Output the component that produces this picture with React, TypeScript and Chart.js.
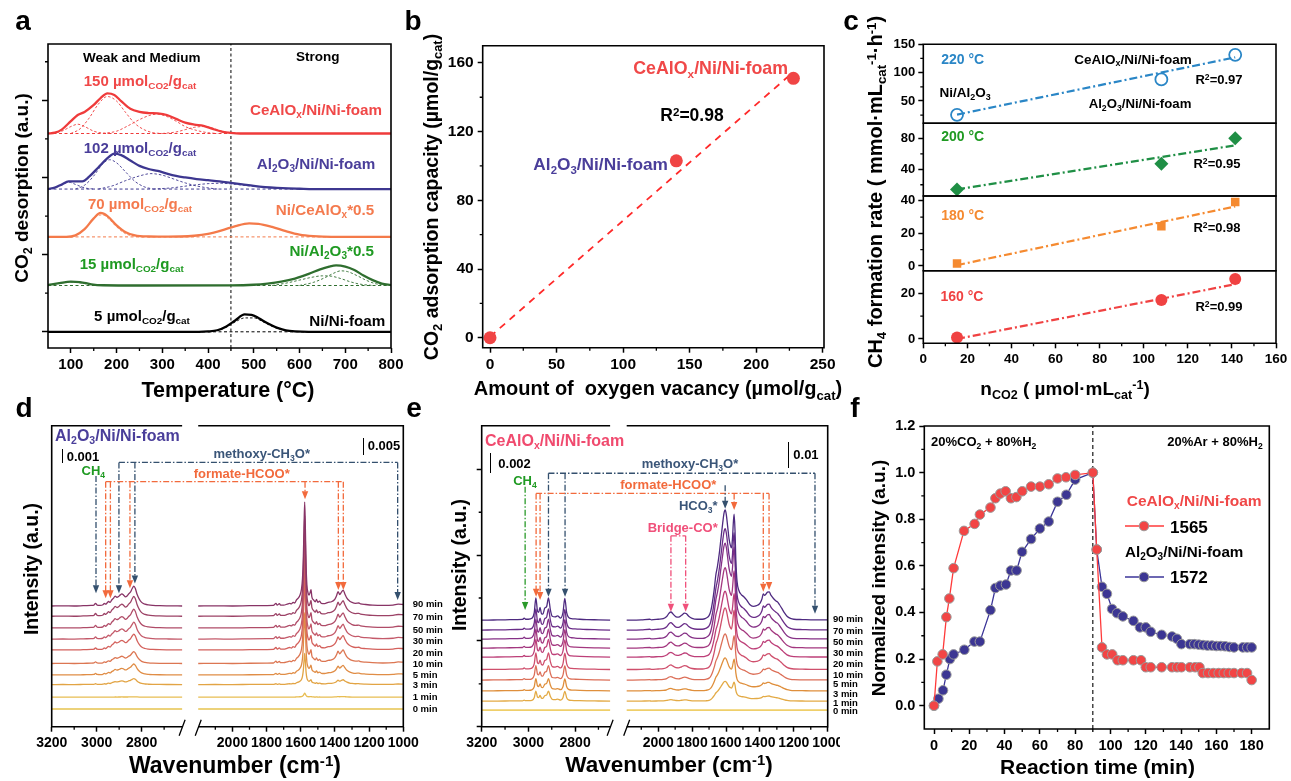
import React, { useEffect, useRef } from 'react';
import { Chart, registerables } from 'chart.js';
Chart.register(...registerables);

const FF = "'Liberation Sans', Arial, Helvetica, sans-serif";
type Pair = [number, number];

/* ================= Panel a : CO2-TPD ================= */
const aXRange = [50, 800];
const aYRange = [-0.21, 3.73];
const aXTicks = [100, 200, 300, 400, 500, 600, 700, 800];
const aXMinor = [150, 250, 350, 450, 550, 650, 750];
const aYTicks = [0, 1, 2, 3];
const aYMinor = [0.5, 1.5, 2.5, 3.5];
const aDivider = 450;
// vertical offsets of the stacked curves (CeAlOx, Al2O3, Ni/CeAlOx, Ni/Al2O3, Ni/Ni-foam)
const aOffsets = [2.57, 1.85, 1.23, 0.6, 0];

const aCeAlOx: Pair[] = [[50,0],[65,0.01],[80,0.05],[100,0.16],[115,0.24],[130,0.28],[150,0.37],[165,0.46],[180,0.52],[195,0.5],[210,0.42],[230,0.32],[250,0.28],[270,0.265],[290,0.26],[310,0.24],[330,0.19],[350,0.14],[370,0.115],[390,0.1],[410,0.06],[430,0.025],[450,0.008],[470,0],[800,0]];
const aCeAlOxFit1: Pair[] = [[60,0],[80,0.03],[100,0.09],[115,0.12],[130,0.09],[150,0.03],[170,0.005],[190,0]];
const aCeAlOxFit2: Pair[] = [[100,0],[120,0.06],[140,0.2],[160,0.38],[180,0.48],[200,0.42],[220,0.27],[240,0.13],[260,0.05],[280,0.01],[300,0]];
const aCeAlOxFit3: Pair[] = [[170,0],[200,0.03],[225,0.1],[250,0.18],[275,0.24],[290,0.25],[310,0.22],[330,0.16],[350,0.09],[375,0.04],[400,0.01],[420,0]];
const aCeAlOxFit4: Pair[] = [[300,0],[330,0.02],[350,0.05],[370,0.08],[390,0.09],[410,0.07],[430,0.03],[450,0.01],[470,0]];

const aAl2O3: Pair[] = [[50,0],[65,0.02],[80,0.06],[95,0.1],[110,0.1],[125,0.1],[140,0.16],[160,0.28],[180,0.4],[195,0.46],[210,0.44],[230,0.37],[250,0.3],[270,0.26],[290,0.235],[310,0.2],[330,0.17],[350,0.15],[375,0.13],[400,0.115],[425,0.1],[450,0.08],[475,0.06],[500,0.04],[525,0.025],[550,0.015],[575,0.008],[600,0.004],[630,0],[800,0]];
const aAl2O3Fit1: Pair[] = [[60,0],[80,0.05],[95,0.09],[110,0.06],[130,0.015],[150,0]];
const aAl2O3Fit2: Pair[] = [[110,0],[130,0.05],[150,0.17],[170,0.33],[185,0.38],[200,0.34],[220,0.22],[240,0.1],[260,0.03],[280,0]];
const aAl2O3Fit3: Pair[] = [[160,0],[190,0.04],[220,0.11],[250,0.17],[275,0.2],[300,0.18],[325,0.13],[350,0.08],[375,0.04],[400,0.015],[420,0]];
const aAl2O3Fit4: Pair[] = [[280,0],[320,0.015],[360,0.045],[400,0.07],[430,0.075],[460,0.06],[500,0.035],[550,0.012],[600,0]];

const aNiCeAlOx: Pair[] = [[50,0],[90,0],[110,0.02],[130,0.1],[150,0.24],[165,0.31],[180,0.27],[200,0.15],[220,0.06],[240,0.02],[270,0.005],[300,0.003],[340,0.005],[370,0.015],[400,0.04],[430,0.085],[460,0.14],[490,0.175],[510,0.17],[540,0.13],[570,0.075],[600,0.03],[630,0.01],[670,0],[800,0]];
const aNiCeAlOxFit1: Pair[] = [[100,0],[120,0.05],[140,0.17],[160,0.28],[170,0.285],[185,0.22],[200,0.13],[220,0.04],[240,0.01],[260,0]];

const aNiAl2O3: Pair[] = [[50,0.005],[75,0.03],[100,0.05],[120,0.045],[145,0.015],[170,0.003],[250,0],[450,0.002],[500,0.01],[530,0.025],[560,0.05],[590,0.09],[620,0.15],[645,0.21],[665,0.245],[680,0.26],[700,0.245],[720,0.2],[740,0.13],[760,0.07],[780,0.025],[800,0.005]];
const aNiAl2O3Fit1: Pair[] = [[50,0],[75,0.03],[100,0.045],[125,0.03],[150,0.005],[170,0]];
const aNiAl2O3Fit2: Pair[] = [[540,0],[570,0.03],[600,0.07],[630,0.11],[650,0.125],[670,0.12],[690,0.09],[710,0.05],[730,0.02],[760,0]];
const aNiAl2O3Fit3: Pair[] = [[600,0],[630,0.04],[655,0.1],[675,0.16],[690,0.19],[705,0.18],[725,0.13],[745,0.07],[765,0.025],[790,0]];

const aNiFoam: Pair[] = [[50,0],[380,0],[400,0.005],[420,0.02],[440,0.07],[460,0.15],[480,0.225],[495,0.22],[510,0.18],[530,0.11],[550,0.055],[570,0.02],[590,0.006],[620,0],[800,0]];
const aNiFoamFit1: Pair[] = [[400,0],[420,0.015],[440,0.06],[460,0.13],[480,0.18],[500,0.18],[520,0.13],[540,0.07],[560,0.03],[590,0.005],[620,0]];

/* ================= Panel b ================= */
const bVacancy = [0, 140, 228];
const bCapacity = [0, 103, 151];
const bFitX = [0, 225];
const bFitY = [0.6, 152.7];
const bXTicks = [0, 50, 100, 150, 200, 250];
const bXMinor = [25, 75, 125, 175, 225];
const bYTicks = [0, 40, 80, 120, 160];
const bYMinor = [20, 60, 100, 140];

/* ================= Panel c ================= */
const cNCO2 = [15.3, 108, 141.5];
const cFitX = [15.3, 141.5];
const c220 = [25.5, 88, 131.5];
const c220Fit = [26, 127];
const c200 = [14, 47, 80];
const c200Fit = [14, 71];
const c180 = [1.5, 24.3, 39.2];
const c180Fit = [0.5, 36.5];
const c160 = [0.6, 17.1, 26.3];
const c160Fit = [0, 24];
const cXTicks = [0, 20, 40, 60, 80, 100, 120, 140, 160];
const cXMinor = [10, 30, 50, 70, 90, 110, 130, 150];

/* ================= Panels d, e : DRIFTS ================= */
const timeLabels = ['0 min', '1 min', '3 min', '5 min', '10 min', '20 min', '30 min', '50 min', '70 min', '90 min'];
const wnTicksLeft = [3200, 3000, 2800];
const wnMinorLeft = [3100, 2900, 2700];
const wnTicksRight = [2000, 1800, 1600, 1400, 1200, 1000];
const wnMinorRight = [2100, 1900, 1700, 1500, 1300, 1100];

// 90-min spectrum shapes (wavenumber, absorbance units above baseline)
const dLeft90: Pair[] = [[3200,0],[3150,0.05],[3100,0],[3060,0.1],[3025,0.2],[3012,0.3],[3005,0.9],[2998,0.3],[2985,0.2],[2972,0.4],[2966,0.9],[2960,0.6],[2954,1.0],[2947,1.5],[2940,1.2],[2933,2.0],[2925,2.6],[2918,3.3],[2910,2.9],[2902,3.2],[2895,3.7],[2888,4.0],[2880,3.6],[2872,3.0],[2865,3.3],[2858,4.0],[2850,4.6],[2842,5.8],[2835,6.6],[2828,5.8],[2820,3.8],[2810,2.2],[2800,1.2],[2785,0.6],[2770,0.35],[2750,0.2],[2720,0.1],[2680,0.05],[2620,0]];
const dRight90: Pair[] = [[2200,0],[2100,0.05],[2000,0],[1900,0.1],[1800,0.15],[1760,0.2],[1745,0.9],[1738,0.3],[1725,0.8],[1718,0.3],[1700,0.3],[1680,0.6],[1665,0.9],[1655,0.7],[1645,1.2],[1635,1.0],[1625,2.0],[1615,2.6],[1605,3.6],[1596,5.5],[1590,9],[1585,16],[1581,26],[1577,34.5],[1573,26],[1569,14],[1564,7],[1558,4.5],[1552,3.6],[1545,4.5],[1540,5.4],[1535,3.0],[1525,2.0],[1515,1.4],[1508,2.2],[1500,1.2],[1490,1.6],[1480,0.9],[1460,0.8],[1440,1.2],[1420,1.4],[1400,2.3],[1390,3.5],[1382,4.8],[1372,3.8],[1362,4.6],[1352,5.3],[1342,4.0],[1330,2.6],[1315,1.7],[1300,1.2],[1280,0.9],[1260,1.0],[1250,0.7],[1220,0.5],[1180,0.3],[1120,0.2],[1060,0.3],[1030,0.6],[1000,0.5]];
const dOffsets = [5.9, 9.8, 14.0, 17.2, 21.0, 25.5, 29.1, 32.8, 36.7, 40.1];
const dLeftScale = [0, 0.02, 0.3, 0.55, 0.6, 0.8, 0.85, 0.95, 1.0, 1.0];
const dRightScale = [0, 0.04, 0.3, 0.6, 0.85, 0.9, 0.93, 0.95, 0.97, 1.0];

const eLeft90: Pair[] = [[3200,0],[3150,0.05],[3100,0.1],[3050,0.2],[3025,0.25],[3018,0.7],[3012,0.3],[3000,0.3],[2985,0.6],[2975,2.5],[2968,7.4],[2961,3.0],[2956,2.6],[2950,4.2],[2944,2.2],[2938,2.0],[2930,4.0],[2922,4.5],[2914,7.4],[2906,3.5],[2898,1.3],[2885,1.1],[2875,1.4],[2862,0.7],[2852,2.5],[2844,7.2],[2836,2.5],[2828,0.9],[2815,0.5],[2800,0.4],[2780,0.3],[2750,0.2],[2700,0.1],[2650,0]];
const eRight90: Pair[] = [[2186,0],[2150,0],[2100,0.1],[2050,0.3],[2040,0.1],[2000,0.3],[1970,0.5],[1950,1.2],[1935,2.4],[1925,2.7],[1912,2.0],[1895,1.1],[1880,1.0],[1862,1.6],[1845,2.3],[1835,2.2],[1820,1.3],[1800,0.6],[1770,0.3],[1740,0.3],[1720,0.6],[1700,1.5],[1690,3.0],[1680,6],[1670,10],[1660,15],[1650,18],[1640,22],[1630,27],[1620,32],[1612,35.5],[1605,36.6],[1598,35],[1590,31],[1582,27],[1575,25],[1568,24],[1562,27],[1556,33],[1552,35.2],[1547,30],[1542,20],[1535,13],[1525,10],[1510,8.5],[1495,7.8],[1480,6.8],[1460,5.2],[1440,4.6],[1420,4.8],[1400,5.6],[1388,7.0],[1380,8.7],[1372,8.2],[1365,8.6],[1355,9.3],[1345,9.4],[1335,8.3],[1320,7.2],[1305,6.4],[1295,6.0],[1285,5.2],[1270,3.8],[1255,2.4],[1240,1.3],[1220,0.6],[1200,0.3],[1150,0.2],[1100,0.1],[1050,0.1],[1000,0.1]];
const eOffsets = [5.5, 8.5, 11.9, 15.5, 19.0, 23.1, 26.1, 29.1, 32.1, 35.4];
const eLeftScale = [0, 0.45, 0.55, 0.65, 0.75, 0.8, 0.85, 0.9, 0.95, 1.0];
const eRightScale = [0, 0.18, 0.3, 0.42, 0.56, 0.6, 0.73, 0.87, 0.92, 1.0];
const eYTicks = [0, 28.5, 57, 85.5];
const eYMinor = [14.25, 42.75, 71.25];

const dColors = ['#ecd27a', '#e8bd52', '#e2a444', '#e08d46', '#dc7652', '#d4615c', '#c45a6a', '#b04c68', '#9c4266', '#883466'];
const eColors = ['#efcf6a', '#e3aa45', '#df8f3c', '#dc6f58', '#cf4f6c', '#bd3f78', '#a3377f', '#863186', '#6a2d88', '#4e2a80'];

// annotation arrows (wavenumber positions, bar level and arrow tips in y-units)
const dMethoxyWn = [2901, 2830, 1033];
const dMethoxyTip = [44.3, 47.6, 42.1];
const dFormateWn = [2960, 2939, 2852, 1575, 1380, 1351];
const dFormateTip = [42.7, 42.7, 46.0, 75.6, 45.4, 45.4];
const dCH4Wn = [3003];
const dCH4Tip = [44.3];
const eMethoxyWn = [2914, 2843, 1075];
const eMethoxyTip = [43.2, 43.2, 37.5];
const eFormateWn = [2967, 2950, 1552, 1380, 1346];
const eFormateTip = [43.2, 42.1, 72, 44.8, 45.4];
const eHCO3Wn = [1605];
const eHCO3Tip = [72.4];
const eBridgeWn = [1925, 1838];
const eBridgeTip = [38.2, 38.2];
const eCH4Wn = [3014];
const eCH4Tip = [38.8];

/* ================= Panel f ================= */
const fRedX = [0,1.9,4.9,7,8.7,11.1,17,23,26,32,34.8,37.6,40.6,43.6,46.7,50,55,60,65,70,74.8,80,90,92.2,95.2,98,101,104,107,113,117.3,120,122.8,129,134.9,137.7,140.2,145,148,150.4,152.3,155.3,158.3,161.3,164.2,167,170,174.3,177.4,180];
const fRedY = [0,0.19,0.22,0.38,0.46,0.59,0.75,0.78,0.82,0.85,0.89,0.91,0.92,0.89,0.895,0.92,0.94,0.94,0.95,0.975,0.98,0.99,1.0,0.67,0.25,0.22,0.22,0.195,0.195,0.195,0.195,0.165,0.165,0.165,0.165,0.165,0.165,0.165,0.165,0.165,0.14,0.14,0.14,0.14,0.14,0.14,0.14,0.14,0.14,0.11];
const fBlueX = [0,2.5,5.1,7,9,11.1,17.2,22.9,26,32,34.8,37.6,40.8,43.6,46.8,49.9,55,60,65,70,75,80,90,92.2,95.2,98,100.9,103.7,107,113,116.7,120,122.8,129,134.9,137.7,140.2,145,147.5,150,152.5,155,157.5,160,162.5,165,167.5,170,175,177.5,180];
const fBlueY = [0,0.03,0.066,0.133,0.2,0.22,0.24,0.275,0.275,0.41,0.505,0.515,0.52,0.58,0.58,0.66,0.715,0.76,0.79,0.875,0.905,0.97,1.0,0.67,0.51,0.48,0.415,0.397,0.383,0.364,0.336,0.336,0.317,0.304,0.297,0.287,0.264,0.264,0.264,0.262,0.26,0.258,0.258,0.256,0.256,0.255,0.252,0.25,0.25,0.25,0.25];
const fSwitch = 90;
const fXTicks = [0, 20, 40, 60, 80, 100, 120, 140, 160, 180];
const fXMinor = [10, 30, 50, 70, 90, 110, 130, 150, 170];
const fYTicks = [0, 0.2, 0.4, 0.6, 0.8, 1.0, 1.2];
const fYMinor = [0.1, 0.3, 0.5, 0.7, 0.9, 1.1];

/* ================= helpers ================= */
const pts = (p: Pair[], base = 0) => p.map(([x, y]) => ({ x, y: base + y }));
const zip = (xs: number[], ys: number[]) => xs.map((x, i) => ({ x, y: ys[i] }));

function xAxis(o: any) {
  if (o.hidden) return { type: 'linear', min: o.min, max: o.max, display: false };
  return {
    type: 'linear', position: 'bottom', min: o.min, max: o.max,
    afterBuildTicks: (s: any) => { s.ticks = o.ticks.map((v: number) => ({ value: v })); },
    afterFit: (s: any) => { s.height = o.size; s.paddingLeft = 0; s.paddingRight = 0; },
    ticks: { display: o.labels !== false, autoSkip: false, maxRotation: 0, minRotation: 0, padding: o.pad ?? 3, color: '#000',
      font: { family: FF, size: o.font ?? 14, weight: 'bold' }, callback: (v: number) => (o.fmt ? o.fmt(v) : String(v)) },
    grid: { display: !o.noTicks, drawOnChartArea: false, drawTicks: true, tickLength: o.tl ?? 5, tickWidth: 1.5, tickColor: '#000' },
    border: { display: false },
  };
}
function yAxis(o: any) {
  return {
    type: 'linear', position: 'left', min: o.min, max: o.max,
    afterBuildTicks: (s: any) => { s.ticks = o.ticks.map((v: number) => ({ value: v })); },
    afterFit: (s: any) => { s.width = o.size; s.paddingTop = 0; s.paddingBottom = 0; },
    ticks: { display: o.labels !== false, autoSkip: false, padding: o.pad ?? 3, color: '#000',
      font: { family: FF, size: o.font ?? 14, weight: 'bold' }, callback: (v: number) => (o.fmt ? o.fmt(v) : String(v)) },
    grid: { display: !o.noTicks, drawOnChartArea: false, drawTicks: true, tickLength: o.tl ?? 5, tickWidth: 1.5, tickColor: '#000' },
    border: { display: false },
  };
}
function baseOptions(pad: any, scales: any) {
  return {
    responsive: false, maintainAspectRatio: false, animation: false, devicePixelRatio: 1, events: [],
    layout: { padding: pad },
    plugins: { legend: { display: false }, tooltip: { enabled: false } },
    scales,
  };
}
function framePlugin(cfg: any) {
  return {
    id: 'frame',
    afterDatasetsDraw(chart: any) {
      const { ctx, chartArea } = chart;
      const { left, right, top, bottom } = chartArea;
      const xs = chart.scales.x, ys = chart.scales.y;
      ctx.save();
      ctx.setLineDash([]);
      ctx.strokeStyle = '#000';
      ctx.lineWidth = cfg.lw ?? 1.6;
      ctx.beginPath();
      if (cfg.gap) {
        const g0 = xs.getPixelForValue(cfg.gap[0]);
        const g1 = xs.getPixelForValue(cfg.gap[1]);
        ctx.moveTo(g0, top); ctx.lineTo(left, top); ctx.lineTo(left, bottom); ctx.lineTo(g0, bottom);
        ctx.moveTo(g1, top); ctx.lineTo(right, top); ctx.lineTo(right, bottom); ctx.lineTo(g1, bottom);
        ctx.stroke();
        ctx.lineWidth = 1.3;
        ctx.beginPath();
        for (const g of [g0, g1]) { ctx.moveTo(g - 3, bottom + 9); ctx.lineTo(g + 3, bottom - 7); }
      } else {
        ctx.rect(left, top, right - left, bottom - top);
      }
      ctx.stroke();
      ctx.lineWidth = 1.3;
      const ml = cfg.minorLen ?? 3;
      ctx.beginPath();
      (cfg.minorX || []).forEach((v: number) => { const p = xs.getPixelForValue(v); ctx.moveTo(p, bottom); ctx.lineTo(p, bottom + ml); });
      (cfg.minorY || []).forEach((v: number) => { const p = ys.getPixelForValue(v); ctx.moveTo(left, p); ctx.lineTo(left - ml, p); });
      ctx.stroke();
      ctx.restore();
    },
  };
}
type Group = { color: string; level?: number; from?: number; wn: number[]; tips: number[] };
function arrowPlugin(groups: Group[], map: (w: number) => number) {
  return {
    id: 'arrows',
    afterDatasetsDraw(chart: any) {
      const { ctx } = chart;
      const xs = chart.scales.x, ys = chart.scales.y;
      ctx.save();
      ctx.lineWidth = 1.3;
      for (const g of groups) {
        ctx.strokeStyle = g.color; ctx.fillStyle = g.color;
        const px = g.wn.map((w) => xs.getPixelForValue(map(w)));
        const y0 = ys.getPixelForValue((g.level ?? g.from) as number);
        ctx.setLineDash([6, 2, 1.5, 2]);
        ctx.beginPath();
        if (g.level !== undefined) { ctx.moveTo(Math.min(...px), y0); ctx.lineTo(Math.max(...px), y0); }
        px.forEach((x, i) => { const yt = ys.getPixelForValue(g.tips[i]); ctx.moveTo(x, y0); ctx.lineTo(x, yt - 6); });
        ctx.stroke();
        ctx.setLineDash([]);
        px.forEach((x, i) => {
          const yt = ys.getPixelForValue(g.tips[i]);
          ctx.beginPath(); ctx.moveTo(x - 3.2, yt - 8); ctx.lineTo(x + 3.2, yt - 8); ctx.lineTo(x, yt); ctx.closePath(); ctx.fill();
        });
      }
      ctx.restore();
    },
  };
}

function ChartCanvas({ left, top, width, height, make }: { left: number; top: number; width: number; height: number; make: () => any }) {
  const ref = useRef<HTMLCanvasElement>(null);
  useEffect(() => {
    const ch = new Chart(ref.current as HTMLCanvasElement, make());
    return () => ch.destroy();
  }, []);
  return <canvas ref={ref} width={width} height={height} style={{ position: 'absolute', left, top, width, height }} />;
}

/* ---------- chart builders ---------- */
function makeA() {
  const series = [
    { main: aCeAlOx, fits: [aCeAlOxFit1, aCeAlOxFit2, aCeAlOxFit3, aCeAlOxFit4], base: aOffsets[0], color: '#ef3b3b' },
    { main: aAl2O3, fits: [aAl2O3Fit1, aAl2O3Fit2, aAl2O3Fit3, aAl2O3Fit4], base: aOffsets[1], color: '#3d3790' },
    { main: aNiCeAlOx, fits: [aNiCeAlOxFit1], base: aOffsets[2], color: '#f47a4a' },
    { main: aNiAl2O3, fits: [aNiAl2O3Fit1, aNiAl2O3Fit2, aNiAl2O3Fit3], base: aOffsets[3], color: '#2f6e2f' },
    { main: aNiFoam, fits: [aNiFoamFit1], base: aOffsets[4], color: '#000000' },
  ];
  const mains = series.map((s) => ({ data: pts(s.main, s.base), borderColor: s.color, borderWidth: 2.3, pointRadius: 0, cubicInterpolationMode: 'monotone', fill: false }));
  const fits = series.flatMap((s) => s.fits.map((f) => ({ data: pts(f, s.base), borderColor: s.color, borderWidth: 0.9, borderDash: [2.5, 2], pointRadius: 0, cubicInterpolationMode: 'monotone', fill: false })));
  const bases = series.map((s) => ({ data: [{ x: aXRange[0], y: s.base }, { x: aXRange[1], y: s.base }], borderColor: s.color, borderWidth: 1, borderDash: [3, 2.5], pointRadius: 0 }));
  const divider = { data: [{ x: aDivider, y: aYRange[0] }, { x: aDivider, y: aYRange[1] }], borderColor: '#000', borderWidth: 1, borderDash: [3, 2.5], pointRadius: 0 };
  return {
    type: 'line',
    data: { datasets: [...mains, ...fits, ...bases, divider] },
    options: baseOptions({ left: 0, top: 44, right: 29, bottom: 0 }, {
      x: xAxis({ min: aXRange[0], max: aXRange[1], ticks: aXTicks, size: 52, font: 15 }),
      y: yAxis({ min: aYRange[0], max: aYRange[1], ticks: aYTicks, size: 48, labels: false, tl: 6 }),
    }),
    plugins: [framePlugin({ minorX: aXMinor, minorY: aYMinor })],
  };
}

function makeB() {
  return {
    type: 'line',
    data: {
      datasets: [
        { data: zip(bVacancy, bCapacity), showLine: false, pointRadius: 6.5, pointBackgroundColor: '#f04545', pointBorderColor: '#f04545', pointBorderWidth: 0 },
        { data: zip(bFitX, bFitY), borderColor: '#ff2a2a', borderWidth: 1.8, borderDash: [7, 6], pointRadius: 0 },
      ],
    },
    options: baseOptions({ left: 0, top: 45.7, right: 16, bottom: 0 }, {
      x: xAxis({ min: -5.5, max: 251, ticks: bXTicks, size: 52.3, font: 15.5 }),
      y: yAxis({ min: -5.8, max: 170, ticks: bYTicks, size: 82.7, font: 15.5, pad: 4 }),
    }),
    plugins: [framePlugin({ minorX: bXMinor, minorY: bYMinor })],
  };
}

const cPanels = [
  { vals: c220, fit: c220Fit, min: 10.6, max: 150, ticks: [50, 100, 150], minor: [25, 75, 125], top: 44.3, bottom: 123.3, color: '#2a86c6', style: 'circle', open: true },
  { vals: c200, fit: c200Fit, min: 5.5, max: 99.4, ticks: [40, 80], minor: [20, 60], top: 123.3, bottom: 196, color: '#1f8f45', style: 'rectRot', open: false },
  { vals: c180, fit: c180Fit, min: -2.9, max: 42.9, ticks: [0, 20, 40], minor: [10, 30], top: 196, bottom: 270.7, color: '#f58a30', style: 'rect', open: false },
  { vals: c160, fit: c160Fit, min: -1.9, max: 29.9, ticks: [0, 20], minor: [10], top: 270.7, bottom: 343.3, color: '#f04242', style: 'circle', open: false },
];
function makeC(i: number) {
  const p = cPanels[i];
  const last = i === cPanels.length - 1;
  const H = 400;
  return {
    type: 'line',
    data: {
      datasets: [
        { data: zip(cNCO2, p.vals), showLine: false, pointStyle: p.style, pointRadius: p.style === 'rectRot' ? 7 : 6, pointBackgroundColor: p.open ? 'rgba(0,0,0,0)' : p.color, pointBorderColor: p.color, pointBorderWidth: p.open ? 1.8 : 0 },
        { data: zip(cFitX, p.fit), borderColor: p.color, borderWidth: 2.2, borderDash: [8, 3, 2, 3], pointRadius: 0 },
      ],
    },
    options: baseOptions({ left: 0, top: p.top, right: 15, bottom: last ? 0 : H - p.bottom }, {
      x: last ? xAxis({ min: 0, max: 160, ticks: cXTicks, size: H - p.bottom, font: 13.5 }) : xAxis({ hidden: true, min: 0, max: 160 }),
      y: yAxis({ min: p.min, max: p.max, ticks: p.ticks, size: 83.3, font: 13, tl: 5 }),
    }),
    plugins: [framePlugin({ minorX: last ? cXMinor : [], minorY: p.minor, minorLen: 3 })],
  };
}

function brokenMap(l0: number, l1: number, kl: number, r0: number, kr: number, ur0: number) {
  return (w: number) => (w > (l1 + r0) / 2 ? (l0 - w) * kl : ur0 + (r0 - w) * kr);
}
const dMap = brokenMap(3200, 2620, 45 / 200, 2200, 34.2 / 200, 146.6);
const eMap = brokenMap(3200, 2650, 46.7 / 200, 2186, 33.9 / 200, 145);

function makeSpectra(opts: any) {
  const { left90, right90, offsets, sL, sR, colors, map, l1, r0, r1, yTicks, yMinor, yLabels, ySize, groups, pad } = opts;
  const gapMid = (map(l1) + map(r0)) / 2;
  const datasets = timeLabels.map((_, i) => ({
    data: [
      ...left90.map(([w, h]: Pair) => ({ x: map(w), y: offsets[i] + sL[i] * h })),
      { x: gapMid, y: null },
      ...right90.map(([w, h]: Pair) => ({ x: map(w), y: offsets[i] + sR[i] * h })),
    ],
    borderColor: colors[i], borderWidth: i === 0 ? 1.9 : 1.3, pointRadius: 0, cubicInterpolationMode: 'monotone', spanGaps: false, fill: false,
  })).reverse();
  const tickWn = [...wnTicksLeft, ...wnTicksRight];
  const tickU = tickWn.map(map);
  const fmt = (v: number) => { const k = tickU.findIndex((u) => Math.abs(u - v) < 0.01); return k >= 0 ? String(tickWn[k]) : ''; };
  const minorU = [...wnMinorLeft, ...wnMinorRight].map(map);
  return {
    type: 'line',
    data: { datasets },
    options: baseOptions(pad, {
      x: xAxis({ min: 0, max: map(r1), ticks: tickU, fmt, size: 54.3, font: 14 }),
      y: yAxis({ min: 0, max: 100, ticks: yTicks, size: ySize, labels: false, noTicks: !yLabels, tl: 5 }),
    }),
    plugins: [framePlugin({ gap: [map(l1), map(r0)], minorX: minorU, minorY: yMinor }), arrowPlugin(groups, map)],
  };
}
function makeD() {
  return makeSpectra({
    left90: dLeft90, right90: dRight90, offsets: dOffsets, sL: dLeftScale, sR: dRightScale, colors: dColors, map: dMap,
    l1: 2620, r0: 2200, r1: 1000, yTicks: [], yMinor: [], yLabels: false, ySize: 51.7,
    pad: { left: 0, top: 5.7, right: 26.7, bottom: 0 },
    groups: [
      { color: '#34506e', level: 87.8, wn: dMethoxyWn, tips: dMethoxyTip },
      { color: '#f26a3c', level: 81.4, wn: dFormateWn, tips: dFormateTip },
      { color: '#34506e', from: 83.3, wn: dCH4Wn, tips: dCH4Tip },
    ],
  });
}
function makeE() {
  return makeSpectra({
    left90: eLeft90, right90: eRight90, offsets: eOffsets, sL: eLeftScale, sR: eRightScale, colors: eColors, map: eMap,
    l1: 2650, r0: 2186, r1: 1000, yTicks: eYTicks, yMinor: eYMinor, yLabels: true, ySize: 41.7,
    pad: { left: 0, top: 5.7, right: 12.3, bottom: 0 },
    groups: [
      { color: '#34506e', level: 84.2, wn: eMethoxyWn, tips: eMethoxyTip },
      { color: '#f26a3c', level: 77.5, wn: eFormateWn, tips: eFormateTip },
      { color: '#34506e', from: 80.2, wn: eHCO3Wn, tips: eHCO3Tip },
      { color: '#f0507a', level: 63.4, wn: eBridgeWn, tips: eBridgeTip },
      { color: '#2a9a2a', from: 79.7, wn: eCH4Wn, tips: eCH4Tip },
    ],
  });
}

const fLegend = [
  { y: 106, line: '#ff3a3a', fill: '#f24545' },
  { y: 157, line: '#3b3598', fill: '#3c3693' },
];
function makeF() {
  const legendPlugin = {
    id: 'flegend',
    afterDatasetsDraw(chart: any) {
      const ctx = chart.ctx;
      ctx.save();
      fLegend.forEach((it) => {
        ctx.strokeStyle = it.line; ctx.lineWidth = 1.3; ctx.setLineDash([]);
        ctx.beginPath(); ctx.moveTo(265, it.y); ctx.lineTo(304, it.y); ctx.stroke();
        ctx.fillStyle = it.fill; ctx.strokeStyle = '#9a9a9a'; ctx.lineWidth = 1;
        ctx.beginPath(); ctx.arc(284, it.y, 4.8, 0, Math.PI * 2); ctx.fill(); ctx.stroke();
      });
      ctx.restore();
    },
  };
  return {
    type: 'line',
    data: {
      datasets: [
        { data: zip(fRedX, fRedY), borderColor: '#ff3a3a', borderWidth: 1.3, pointRadius: 4.8, pointBackgroundColor: '#f24545', pointBorderColor: '#9a9a9a', pointBorderWidth: 1, tension: 0 },
        { data: zip(fBlueX, fBlueY), borderColor: '#3b3598', borderWidth: 1.3, pointRadius: 4.8, pointBackgroundColor: '#3c3693', pointBorderColor: '#9a9a9a', pointBorderWidth: 1, tension: 0 },
        { data: [{ x: fSwitch, y: -0.1 }, { x: fSwitch, y: 1.2 }], borderColor: '#000', borderWidth: 1.1, borderDash: [4, 3], pointRadius: 0 },
      ],
    },
    options: baseOptions({ left: 0, top: 6, right: 21.7, bottom: 0 }, {
      x: xAxis({ min: -5.5, max: 190, ticks: fXTicks, size: 52, font: 14.5 }),
      y: yAxis({ min: -0.1, max: 1.2, ticks: fYTicks, size: 64.3, font: 14.5, fmt: (v: number) => v.toFixed(1), pad: 4 }),
    }),
    plugins: [framePlugin({ minorX: fXMinor, minorY: fYMinor }), legendPlugin],
  };
}

/* ---------- text helpers ---------- */
const Sb = ({ t }: { t: string }) => <span style={{ fontSize: '0.66em', position: 'relative', top: '0.32em', lineHeight: 0 }}>{t}</span>;
const Sp = ({ t }: { t: string }) => <span style={{ fontSize: '0.66em', position: 'relative', top: '-0.45em', lineHeight: 0 }}>{t}</span>;
function T({ x, y, s, c = '#000', a = 'c', r = false, children }: any) {
  const tx = a === 'c' ? '-50%' : a === 'r' ? '-100%' : '0';
  return (
    <div style={{ position: 'absolute', left: x, top: y, transform: `translate(${tx},-50%)${r ? ' rotate(-90deg)' : ''}`, fontFamily: FF, fontWeight: 'bold', fontSize: s, color: c, whiteSpace: 'nowrap', lineHeight: 1 }}>
      {children}
    </div>
  );
}
const Bar = ({ x, y1, y2 }: { x: number; y1: number; y2: number }) => (
  <div style={{ position: 'absolute', left: x - 0.75, top: y1, width: 1.5, height: y2 - y1, background: '#000' }} />
);
const umol = (c: string, n: string) => (<span style={{ color: c }}>{n} µmol<Sb t="CO2" />/g<Sb t="cat" /></span>);

const RED = '#f04848', PUR = '#4a3e9a', ORA = '#f47a4e', GRN = '#1f9a22';
const dLabelY = [708.7, 696.7, 685.3, 675, 663.7, 652.7, 641, 630, 616.7, 604.3];
const eLabelY = [711, 702.7, 694, 684.3, 675, 664, 653.3, 641.7, 630.7, 619.3];

export default function App() {
  return (
    <div style={{ position: 'absolute', left: 0, top: 0, width: 1291, height: 781, background: '#fff', overflow: 'hidden' }}>
      <ChartCanvas left={0} top={0} width={420} height={400} make={makeA} />
      <ChartCanvas left={400} top={0} width={440} height={400} make={makeB} />
      {cPanels.map((_, i) => <ChartCanvas key={i} left={840} top={0} width={451} height={400} make={() => makeC(i)} />)}
      <ChartCanvas left={0} top={420} width={430} height={361} make={makeD} />
      <ChartCanvas left={440} top={420} width={400} height={361} make={makeE} />
      <ChartCanvas left={860} top={420} width={431} height={361} make={makeF} />

      {/* panel letters */}
      <T x={23} y={21} s={28}>a</T>
      <T x={413} y={21} s={28}>b</T>
      <T x={851} y={21} s={28}>c</T>
      <T x={24} y={408} s={28}>d</T>
      <T x={414} y={408} s={28}>e</T>
      <T x={855} y={408} s={28}>f</T>

      {/* panel a texts */}
      <T x={141.7} y={58.3} s={13.5}>Weak and Medium</T>
      <T x={317.7} y={57.3} s={13.5}>Strong</T>
      <T x={140} y={80} s={15} c={RED}>{umol(RED, '150')}</T>
      <T x={316} y={110} s={15.2} c={RED}>CeAlO<Sb t="x" />/Ni/Ni-foam</T>
      <T x={140} y={146.7} s={15} c={PUR}>{umol(PUR, '102')}</T>
      <T x={316} y={164} s={15.2} c={PUR}>Al<Sb t="2" />O<Sb t="3" />/Ni/Ni-foam</T>
      <T x={140} y={203.3} s={15} c={ORA}>{umol(ORA, '70')}</T>
      <T x={325} y={210} s={15.2} c={ORA}>Ni/CeAlO<Sb t="x" />*0.5</T>
      <T x={331.7} y={250.7} s={15.2} c={GRN}>Ni/Al<Sb t="2" />O<Sb t="3" />*0.5</T>
      <T x={131.7} y={263.3} s={15} c={GRN}>{umol(GRN, '15')}</T>
      <T x={142} y={315} s={15}>{umol('#000', '5')}</T>
      <T x={347.3} y={320.7} s={15.2}>Ni/Ni-foam</T>
      <T x={21} y={188} s={19} r>CO<Sb t="2" /> desorption (a.u.)</T>
      <T x={228} y={391} s={21.5}>Temperature (°C)</T>

      {/* panel b texts */}
      <T x={788} y={69.3} s={17.8} c={RED} a="r">CeAlO<Sb t="x" />/Ni/Ni-foam</T>
      <T x={692} y={116} s={17.5}>R<Sp t="2" />=0.98</T>
      <T x={668} y={165} s={17.3} c={PUR} a="r">Al<Sb t="2" />O<Sb t="3" />/Ni/Ni-foam</T>
      <T x={431.5} y={197} s={19.5} r>CO<Sb t="2" /> adsorption capacity (µmol/g<Sb t="cat" />)</T>
      <T x={658} y={388.3} s={20}>Amount of&nbsp; oxygen vacancy (µmol/g<Sb t="cat" />)</T>

      {/* panel c texts */}
      <T x={962.7} y={59.3} s={14} c="#2a86c6">220 °C</T>
      <T x={962.7} y={136} s={14} c={GRN}>200 °C</T>
      <T x={962.7} y={215} s={14} c="#f58a30">180 °C</T>
      <T x={962} y={296} s={14} c="#f04242">160 °C</T>
      <T x={1133} y={59.5} s={13.5}>CeAlO<Sb t="x" />/Ni/Ni-foam</T>
      <T x={1219} y={79} s={13}>R<Sp t="2" />=0.97</T>
      <T x={965} y={93} s={13.5}>Ni/Al<Sb t="2" />O<Sb t="3" /></T>
      <T x={1140} y={104} s={13.2}>Al<Sb t="2" />O<Sb t="3" />/Ni/Ni-foam</T>
      <T x={1217} y={162.5} s={13}>R<Sp t="2" />=0.95</T>
      <T x={1217} y={227} s={13}>R<Sp t="2" />=0.98</T>
      <T x={1219} y={306} s={13}>R<Sp t="2" />=0.99</T>
      <T x={875} y={192} s={20} r>CH<Sb t="4" /> formation rate ( mmol·mL<Sb t="cat" /><Sp t="-1" />·h<Sp t="-1" />)</T>
      <T x={1065} y={388} s={19}>n<Sb t="CO2" /> ( µmol·mL<Sb t="cat" /><Sp t="-1" />)</T>

      {/* panel d texts */}
      <T x={55} y={436} s={16} c={PUR} a="l">Al<Sb t="2" />O<Sb t="3" />/Ni/Ni-foam</T>
      <Bar x={62.7} y1={449.3} y2={462.7} />
      <T x={66.7} y={456} s={13} a="l">0.001</T>
      <Bar x={363.3} y1={438} y2={455} />
      <T x={367.7} y={445} s={13} a="l">0.005</T>
      <T x={261.7} y={453.3} s={13} c="#3a5578">methoxy-CH<Sb t="3" />O*</T>
      <T x={241.7} y={472.7} s={13} c="#f26a3c">formate-HCOO*</T>
      <T x={93.3} y={470} s={13} c={GRN}>CH<Sb t="4" /></T>
      {timeLabels.map((t, i) => <T key={'d' + t} x={412.7} y={dLabelY[i]} s={9.5} a="l">{t}</T>)}
      <T x={31.7} y={569} s={19.5} r>Intensity (a.u.)</T>
      <T x={235} y={765} s={23}>Wavenumber (cm<Sp t="-1" />)</T>

      {/* panel e texts */}
      <T x={485} y={440.7} s={16} c="#f04a6e" a="l">CeAlO<Sb t="x" />/Ni/Ni-foam</T>
      <Bar x={490.7} y1={453.3} y2={472.7} />
      <T x={498.3} y={462.7} s={13} a="l">0.002</T>
      <Bar x={788.3} y1={441.7} y2={468.3} />
      <T x={793.3} y={454.3} s={13} a="l">0.01</T>
      <T x={690} y={463.3} s={13} c="#3a5578">methoxy-CH<Sb t="3" />O*</T>
      <T x={668.3} y={484.3} s={13} c="#f26a3c">formate-HCOO*</T>
      <T x={698.3} y={505} s={13} c="#3a5578">HCO<Sb t="3" />*</T>
      <T x={682.7} y={526.7} s={13} c="#f0507a">Bridge-CO*</T>
      <T x={525} y={480} s={13} c={GRN}>CH<Sb t="4" /></T>
      {timeLabels.map((t, i) => <T key={'e' + t} x={833} y={eLabelY[i]} s={9.5} a="l">{t}</T>)}
      <T x={460} y={565} s={19.5} r>Intensity (a.u.)</T>
      <T x={669} y={765} s={22.5}>Wavenumber (cm<Sp t="-1" />)</T>

      {/* panel f texts */}
      <T x={931} y={441} s={13} a="l">20%CO<Sb t="2" /> + 80%H<Sb t="2" /></T>
      <T x={1262.7} y={441} s={13} a="r">20%Ar + 80%H<Sb t="2" /></T>
      <T x={1126.7} y={501} s={15.5} c={RED} a="l">CeAlO<Sb t="x" />/Ni/Ni-foam</T>
      <T x={1170} y={527} s={17} a="l">1565</T>
      <T x={1125} y={552} s={15.2} a="l">Al<Sb t="2" />O<Sb t="3" />/Ni/Ni-foam</T>
      <T x={1170} y={577} s={17} a="l">1572</T>
      <T x={878.3} y={578} s={19} r>Normalized intensity (a.u.)</T>
      <T x={1097.5} y={766} s={21}>Reaction time (min)</T>
    </div>
  );
}
